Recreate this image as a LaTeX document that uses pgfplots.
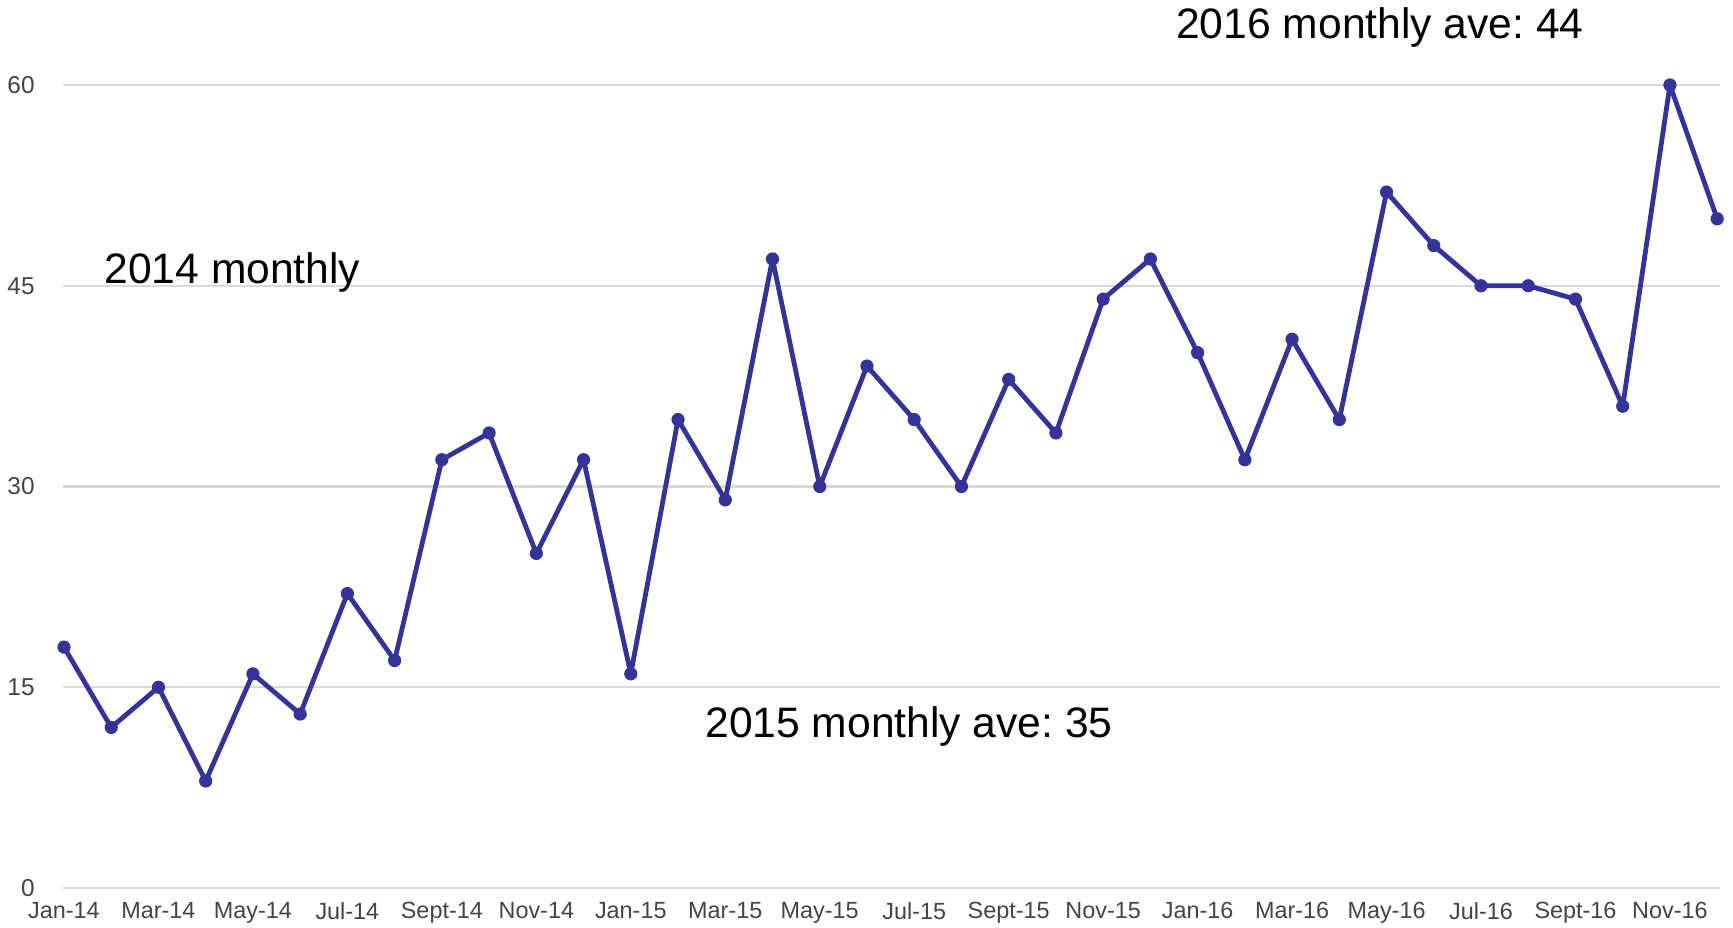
\documentclass[border=0pt]{standalone}
\usepackage{fontspec}
\setmainfont{Liberation Sans}
\usepackage{pgfplots}
\pgfplotsset{compat=1.18}
\definecolor{lineblue}{RGB}{51,51,153}
\definecolor{gridgray}{RGB}{217,217,217}
\definecolor{ticktext}{RGB}{68,68,68}
\frenchspacing
\begin{document}
\begin{tikzpicture}
\path[use as bounding box] (-31.5pt,-19.5pt) rectangle (835pt,444pt);
\begin{axis}[
  at={(0pt,0pt)}, anchor=south west,
  scale only axis,
  width=828.5pt, height=401.5pt,
  xmin=-0.021, xmax=35.06,
  ymin=0, ymax=60,
  clip=false,
  axis line style={draw=none},
  major tick length=0pt,
  tick style={draw=none},
  ymajorgrids,
  grid style={gridgray, line width=1.2pt},
  ytick={0,15,30,45,60},
  xtick={0,2,...,34},
  xticklabels={Jan-14,Mar-14,May-14,Jul-14,Sept-14,Nov-14,Jan-15,Mar-15,May-15,Jul-15,Sept-15,Nov-15,Jan-16,Mar-16,May-16,Jul-16,Sept-16,Nov-16},
  /pgf/number format/assume math mode=true,
  xticklabel style={anchor=north, inner sep=0pt, yshift=-7pt, font=\fontsize{11.7pt}{13pt}\selectfont, text=ticktext},
  yticklabel style={anchor=east, inner sep=0pt, xshift=-14pt, font=\fontsize{12.2pt}{13pt}\selectfont, text=ticktext},
]
\addplot[lineblue, line width=2.4pt, line join=round, mark=*, mark size=3pt, mark options={fill=lineblue, draw=lineblue, line width=0.6pt, solid}] coordinates {
(0,18) (1,12) (2,15) (3,8) (4,16) (5,13) (6,22) (7,17) (8,32) (9,34) (10,25) (11,32)
(12,16) (13,35) (14,29) (15,47) (16,30) (17,39) (18,35) (19,30) (20,38) (21,34) (22,44) (23,47)
(24,40) (25,32) (26,41) (27,35) (28,52) (29,48) (30,45) (31,45) (32,44) (33,36) (34,60) (35,50)
};
\node[anchor=base west, inner sep=0pt, font=\fontsize{21.3pt}{24pt}\selectfont] at (axis cs:0.85,45.14) {2014 monthly};
\node[anchor=base west, inner sep=0pt, font=\fontsize{21.3pt}{24pt}\selectfont] at (axis cs:13.57,11.21) {2015 monthly ave: 35};
\node[anchor=base west, inner sep=0pt, font=\fontsize{21.3pt}{24pt}\selectfont] at (axis cs:23.54,63.45) {2016 monthly ave: 44};
\end{axis}
\end{tikzpicture}
\end{document}
